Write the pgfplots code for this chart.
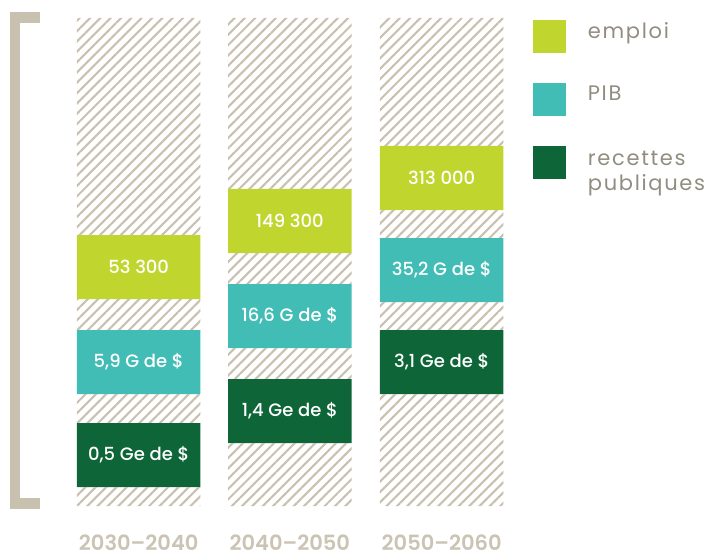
\documentclass[border=0pt]{standalone}
\usepackage{fontspec}
\setmainfont{Poppins}
\newfontfamily\medfont{Poppins Medium}
\newfontfamily\semifont{Poppins SemiBold}[Ligatures=TeX]
\newfontfamily\legfont{Poppins}[LetterSpace=8]
\usepackage{pgfplots}
\usepackage{pgfplotstable}
\pgfplotsset{compat=1.18}
\usetikzlibrary{patterns.meta}
\definecolor{limec}{HTML}{C0D62E}
\definecolor{tealc}{HTML}{42BDB5}
\definecolor{darkc}{HTML}{0E6638}
\definecolor{hatchc}{HTML}{C9C1B0}
\definecolor{yearc}{HTML}{CBC4B5}
\definecolor{legc}{HTML}{918D80}

\pgfplotstableread{
x     base g1  dark g2 teal g3 lime top dl                       tl                       ll
138.7 46   19  64   29 64   31 64   217 {0,5 Ge de \textdollar}  {5,9 G de \textdollar}   {53 300}
289.8 46   63  64   31 64   31 64   171 {1,4 Ge de \textdollar}  {16,6 G de \textdollar}  {149 300}
441.7 46   112 64   28 64   28 64   128 {3,1 Ge de \textdollar}  {35,2 G de \textdollar}  {313 000}
}\data

\begin{document}
\begin{tikzpicture}
\begin{axis}[
  scale only axis, width=708pt, height=506pt,
  xmin=0, xmax=708, ymin=46, ymax=552,
  axis x line=bottom, axis y line=none,
  x axis line style={draw=none,-},
  xtick style={draw=none},
  xtick={138.7,289.8,441.7},
  xticklabels={2030\textendash 2040,2040\textendash 2050,2050\textendash 2060},
  xticklabel style={anchor=center, inner sep=0pt, yshift=-34.5pt, text=yearc,
    text depth=0pt, font=\fontsize{21}{21}\selectfont\semifont},
  ybar stacked, bar width=123.5,
  clip=false,
  hatch/.style={draw=none, fill=none,
    pattern={Lines[angle=45,distance=7.3pt,line width=2.1pt]},
    pattern color=hatchc, forget plot},
  boxlab/.style={draw=none, nodes near coords, point meta=explicit symbolic,
    every node near coord/.style={anchor=center, text=white,
      font=\fontsize{18}{18}\selectfont\medfont}},
  reverse legend,
  legend style={at={(axis cs:532.7,532)}, anchor=north west, draw=none, fill=none,
    inner sep=0pt, font=\fontsize{21}{25}\selectfont\legfont, text=legc,
    /tikz/row sep=30pt, /tikz/column sep=22pt,
    nodes={inner sep=0pt}},
  legend cell align=left,
]
\addplot[draw=none, fill=none, forget plot] table[x=x, y=base] {\data};
\addplot[hatch] table[x=x, y=g1] {\data};
\addplot[boxlab, fill=darkc,
  legend image code/.code={\fill[darkc] (0pt,-22pt) rectangle (33pt,11pt);}]
  table[x=x, y=dark, meta=dl] {\data};
\addlegendentry{\begin{tabular}[t]{@{}l@{}}recettes\\publiques\end{tabular}}
\addplot[hatch] table[x=x, y=g2] {\data};
\addplot[boxlab, fill=tealc,
  legend image code/.code={\fill[tealc] (0pt,-22pt) rectangle (33pt,11pt);}]
  table[x=x, y=teal, meta=tl] {\data};
\addlegendentry{PIB}
\addplot[hatch] table[x=x, y=g3] {\data};
\addplot[boxlab, fill=limec,
  legend image code/.code={\fill[limec] (0pt,-22pt) rectangle (33pt,11pt);}]
  table[x=x, y=lime, meta=ll] {\data};
\addlegendentry{emploi}
\addplot[hatch] table[x=x, y=top] {\data};
% bracket
\fill[hatchc] (axis cs:9.5,43) rectangle (axis cs:20,539.7);
\fill[hatchc] (axis cs:9.5,528.7) rectangle (axis cs:40,539.7);
\fill[hatchc] (axis cs:9.5,43) rectangle (axis cs:40,54);
\coordinate (bl) at (axis cs:0,0);
\coordinate (tr) at (axis cs:708,552);
\end{axis}
\pgfresetboundingbox
\path (bl) rectangle (tr);
\end{tikzpicture}
\end{document}
